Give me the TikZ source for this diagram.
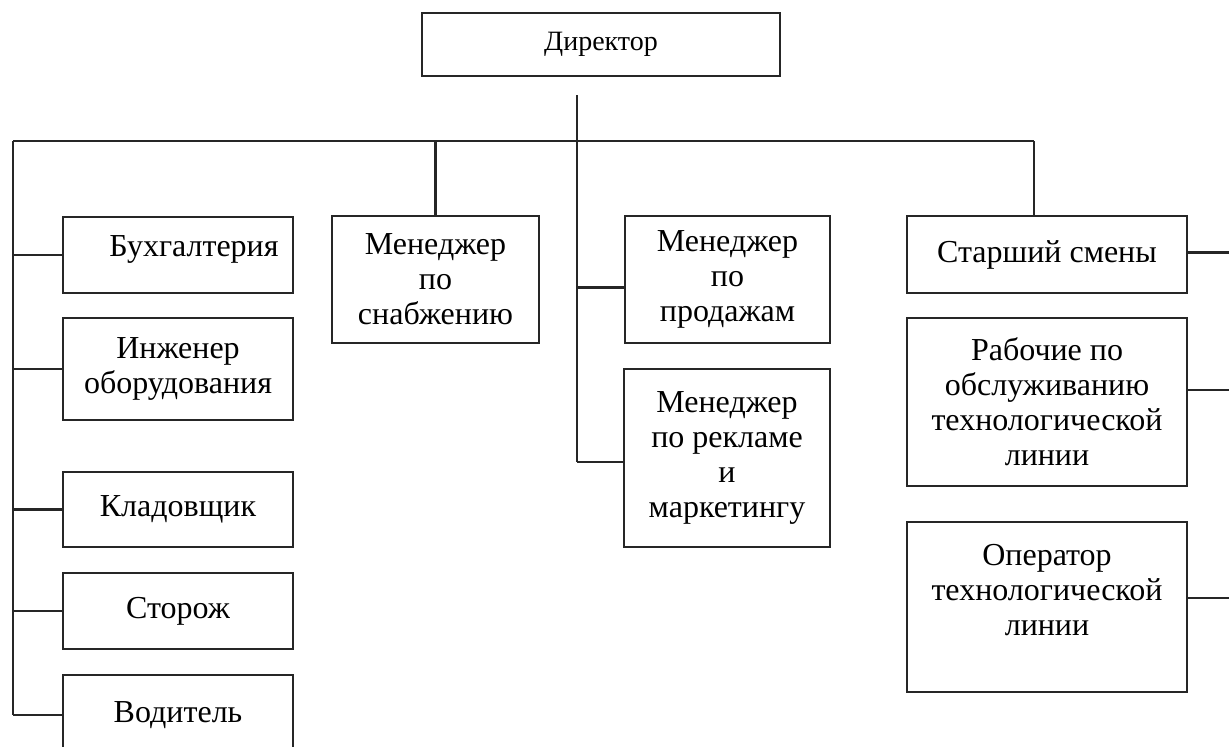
\documentclass[tikz,border=0pt]{standalone}
\usepackage{fontspec}
\setmainfont{Liberation Serif}
\begin{document}
\begin{tikzpicture}[x=0.5pt, y=-0.5pt,
	box/.style={draw=black!85, line width=1.1pt, align=center, inner sep=0pt, font=\fontsize{16}{17.5}\selectfont},
	link/.style={draw=black!85, line width=1.1pt}]
	\useasboundingbox (0,0) rectangle (1229,746);
	
	\node[box, minimum width=179pt, minimum height=31.5pt, font=\fontsize{14}{16}\selectfont] (dir) at (601,44.5) {Директор};
	
	\node[box, minimum width=115pt, minimum height=38pt] (buh) at (178,255) {\hspace*{16pt}Бухгалтерия\\[-9pt]\mbox{}};
	\node[box, minimum width=115pt, minimum height=51pt] (inzh) at (178,369) {Инженер\\оборудования};
	\node[box, minimum width=115pt, minimum height=37.5pt] (klad) at (178,509.5) {Кладовщик};
	\node[box, minimum width=115pt, minimum height=38pt] (stor) at (178,611) {Сторож};
	\node[box, minimum width=115pt, minimum height=40pt] (vod) at (178,715) {Водитель};
	
	\node[box, minimum width=103.5pt, minimum height=63.5pt] (snab) at (435.5,279.5) {Менеджер\\по\\снабжению};
	\node[box, minimum width=102.5pt, minimum height=63.5pt] (prod) at (727.5,279.5) {Менеджер\\по\\продажам};
	\node[box, minimum width=103pt, minimum height=89pt] (rekl) at (727,458) {Менеджер\\по рекламе\\и\\маркетингу};
	
	\node[box, minimum width=140pt, minimum height=38.5pt] (star) at (1047,254.5) {Старший смены};
	\node[box, minimum width=140pt, minimum height=84pt] (rab) at (1047,402) {Рабочие по\\обслуживанию\\технологической\\линии};
	\node[box, minimum width=140pt, minimum height=85pt] (oper) at (1047,607) {Оператор\\технологической\\линии\\\mbox{}};
	
	\coordinate (top) at (577,95);
	\coordinate (hub) at (577,141);
	\coordinate (bl) at (13,141);
	\coordinate (br) at (1034,141);
	\coordinate (edge) at (1229,141);
	\coordinate (mid) at (577,462);
	\coordinate (pw) at ([yshift=-4pt]prod.west);
	
	\draw[link] (top) -- (hub);
	\draw[link] (bl) -- (br);
	\draw[link] (bl) -- (bl |- vod.west);
	\foreach \n in {buh,inzh,klad,stor,vod} {
		\draw[link] (bl |- \n.west) -- (\n.west);
	}
	\draw[link] (snab.north |- bl) -- (snab.north);
	\draw[link] (hub) -- (mid);
	\draw[link] (pw -| hub) -- (pw);
	\draw[link] (mid) -- (mid -| rekl.west);
	\draw[link] (br) -- (br |- star.north);
	\foreach \n/\s in {star/1pt,rab/6pt,oper/4.5pt} {
		\coordinate (e) at ([yshift=\s]\n.east);
		\draw[link] (e) -- (e -| edge);
	}
\end{tikzpicture}
\end{document}
